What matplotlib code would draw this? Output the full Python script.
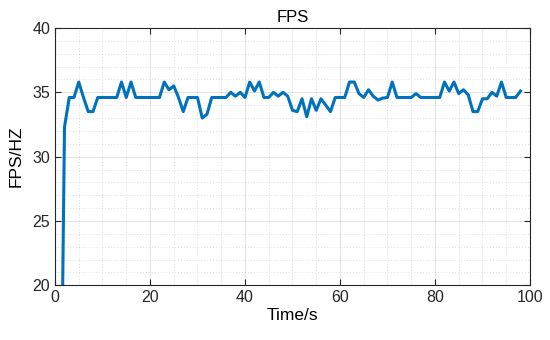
import matplotlib
matplotlib.use("Agg")
import matplotlib.pyplot as plt
from matplotlib.ticker import MultipleLocator

plt.rcParams['font.family'] = ['Liberation Sans', 'DejaVu Sans']

# time in seconds, one sample per second
t = list(range(1, 99))
fps = [0.0, 32.3, 34.6, 34.6, 35.8, 34.6, 33.5, 33.5, 34.6, 34.6,
       34.6, 34.6, 34.6, 35.8, 34.6, 35.8, 34.6, 34.6, 34.6, 34.6,
       34.6, 34.6, 35.8, 35.2, 35.5, 34.6, 33.5, 34.6, 34.6, 34.6,
       33.0, 33.3, 34.6, 34.6, 34.6, 34.6, 35.0, 34.7, 35.0, 34.6,
       35.8, 35.1, 35.8, 34.6, 34.6, 35.0, 34.7, 35.0, 34.7, 33.6,
       33.5, 34.5, 33.1, 34.5, 33.6, 34.5, 34.0, 33.5, 34.6, 34.6,
       34.6, 35.8, 35.8, 34.9, 34.6, 35.2, 34.7, 34.4, 34.55, 34.6,
       35.8, 34.6, 34.6, 34.6, 34.6, 34.9, 34.6, 34.6, 34.6, 34.6,
       34.6, 35.8, 35.1, 35.8, 34.9, 35.2, 34.8, 33.5, 33.5, 34.5,
       34.5, 35.0, 34.7, 35.8, 34.6, 34.6, 34.6, 35.1]

fig = plt.figure(figsize=(5.5, 3.4), dpi=100)
ax = fig.add_axes([0.1, 0.161, 0.8636, 0.7566])

ax.plot(t, fps, color=(0, 0.447, 0.741), linewidth=2.2)

ax.set_xlim(0, 100)
ax.set_ylim(20, 40)
ax.xaxis.set_major_locator(MultipleLocator(20))
ax.yaxis.set_major_locator(MultipleLocator(5))
ax.xaxis.set_minor_locator(MultipleLocator(5))
ax.yaxis.set_minor_locator(MultipleLocator(1))

ax.grid(which='major', color=(0.15, 0.15, 0.15), alpha=0.15, linewidth=0.6)
ax.grid(which='minor', color=(0.15, 0.15, 0.15), alpha=0.15, linewidth=0.7,
        linestyle=(0, (1, 2)))
ax.set_axisbelow(True)

ax.tick_params(which='both', direction='in', top=True, right=True,
               colors=(0.15, 0.15, 0.15), labelsize=11.5)
ax.tick_params(which='major', length=4)
ax.tick_params(which='minor', length=0)
for s in ax.spines.values():
    s.set_color((0.15, 0.15, 0.15))
    s.set_linewidth(0.8)
for lab in ax.get_xticklabels() + ax.get_yticklabels():
    lab.set_color((0.15, 0.15, 0.15))

ax.set_title("FPS", fontsize=12, pad=4)
ax.set_xlabel("Time/s", fontsize=12.5, labelpad=2)
ax.set_ylabel("FPS/HZ", fontsize=12.5, labelpad=6)

fig.savefig("out.png", dpi=100)
